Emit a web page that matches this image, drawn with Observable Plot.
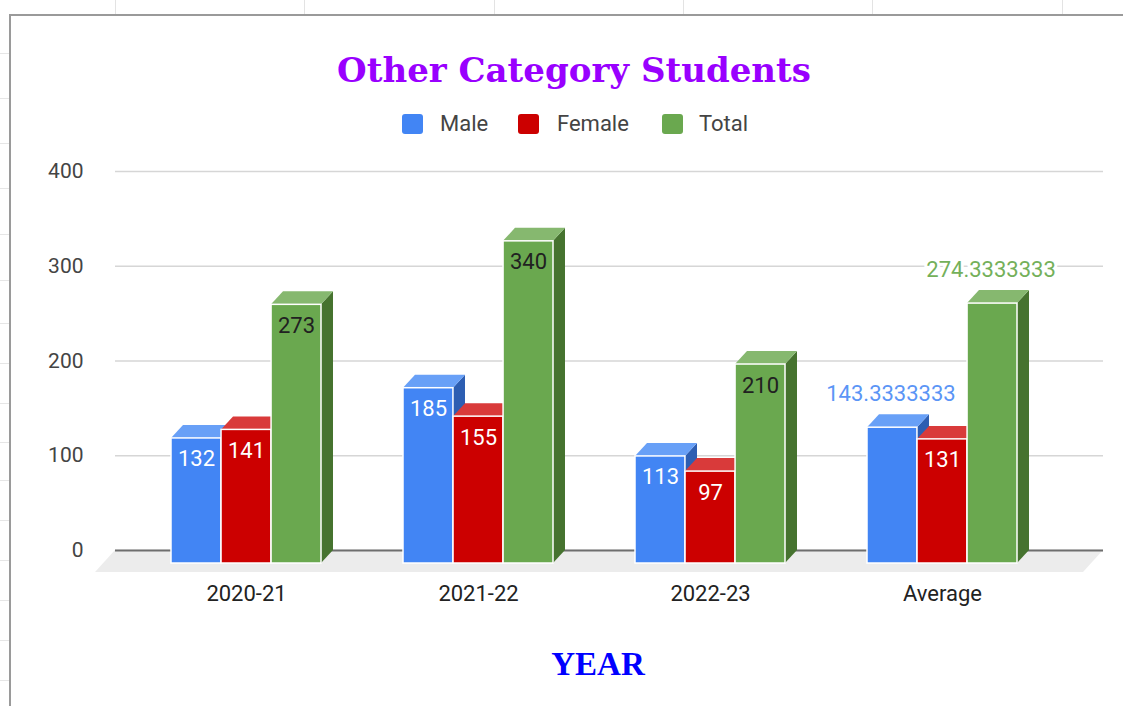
<!DOCTYPE html>
<html>
<head>
<meta charset="utf-8">
<script src="https://cdn.jsdelivr.net/npm/d3@7"></script>
<script src="https://cdn.jsdelivr.net/npm/@observablehq/plot@0.6"></script>
<style>
  html, body { margin: 0; padding: 0; background: #fff; }
  #wrap { position: relative; width: 1123px; height: 706px; overflow: hidden; background: #fff; }
  .abs { position: absolute; white-space: nowrap; }
  #title { left: 0; width: 1148px; text-align: center; top: 53px; font: bold 34px/34px "DejaVu Serif", serif; color: #9900ff; }
  #xlabel { left: 0; width: 1196px; text-align: center; top: 648px; font: bold 33px/33px "Liberation Serif", serif; color: #0000ff; }
  #legend { top: 113px; height: 22px; font: 22px/22px Roboto, sans-serif; color: #444; }
  .sw { position: absolute; top: 1px; width: 21px; height: 20px; border-radius: 3px; }
  .lt { position: absolute; top: 0; }
  #chart { position: absolute; left: 0; top: 140px; }
  #chart g[aria-label="x-axis tick label"] { fill: #222; font-size: 22px; }
  #chart g[aria-label="y-axis tick label"] { fill: #444; }
  .frameTop { position: absolute; left: 10px; top: 14px; width: 1113px; height: 0; border-top: 2px solid #9a9a9a; }
  .frameLeft { position: absolute; left: 9px; top: 14px; width: 0; height: 692px; border-left: 2px solid #9a9a9a; }
  .tickTop { position: absolute; top: 0; width: 1px; height: 14px; background: #e3e3e3; }
  .tickLeft { position: absolute; left: 0; height: 1px; width: 9px; background: #e6e6e6; }
</style>
</head>
<body>
<div id="wrap">
  <div class="frameTop"></div>
  <div class="frameLeft"></div>
  <div id="title" class="abs">Other Category Students</div>
  <div id="legend" class="abs"></div>
  <div id="chart"></div>
  <div id="xlabel" class="abs">YEAR</div>
</div>
<script>
// ---- data ----
const years = ["2020-21", "2021-22", "2022-23", "Average"];
const seriesNames = ["Male", "Female", "Total"];
const male = [132, 185, 113, 143.3333333];
const female = [141, 155, 97, 131];
const total = [273, 340, 210, 274.3333333];
const yTicks = [0, 100, 200, 300, 400];

// ---- styles ----
const frontColors = ["#4285f4", "#cc0000", "#6aa84f"];
const topColors = ["#68a0f7", "#d93a3a", "#86b86f"];
const sideColors = ["#2d5eb2", "#8e0000", "#46732f"];
const insideText = ["#ffffff", "#ffffff", "#212121"];
const outsideText = ["#5b95f6", "#d93a3a", "#74b05a"];
const DX = 12, DY = 13;

const seriesValues = [male, female, total];
const rows = seriesValues.map((vals, i) =>
  years.map((g, j) => ({group: g, series: seriesNames[i], si: i, value: vals[j], label: String(vals[j])})));

// frame decorations (spreadsheet cell borders)
const wrap = document.getElementById("wrap");
[115, 304, 494, 683, 872, 1062].forEach(x => {
  const d = document.createElement("div"); d.className = "tickTop"; d.style.left = x + "px"; wrap.appendChild(d);
});
[53, 98, 143, 188, 234, 280, 323, 363, 403, 442, 480, 520, 560, 600, 640, 680].forEach(y => {
  const d = document.createElement("div"); d.className = "tickLeft"; d.style.top = y + "px"; wrap.appendChild(d);
});

// legend
const legend = document.getElementById("legend");
const legendPos = [[402, 440], [518, 557], [662, 699]];
seriesNames.forEach((n, i) => {
  const s = document.createElement("div"); s.className = "sw";
  s.style.left = legendPos[i][0] + "px"; s.style.background = frontColors[i];
  const t = document.createElement("div"); t.className = "lt";
  t.style.left = legendPos[i][1] + "px"; t.textContent = n;
  legend.appendChild(s); legend.appendChild(t);
});

// x band layout
const xRange = [128.83, 1058.17];
const pad = 0.354;
const step = (xRange[1] - xRange[0]) / years.length;
const bw = step * (1 - pad);
const w = bw / 3;

function faces(i) {
  return (index, scales) => {
    const g = d3.create("svg:g");
    const bwid = scales.x.bandwidth ? scales.x.bandwidth() : bw;
    const ww = bwid / 3;
    const y0 = scales.y(0);
    for (const d of rows[i]) {
      const xl = scales.x(d.group) + i * ww, xr = xl + ww;
      const yb = scales.y(d.value);
      g.append("path")
        .attr("d", `M${xr},${yb + DY}L${xr + DX},${yb}L${xr + DX},${y0}L${xr},${y0 + DY}Z`)
        .attr("fill", sideColors[i]);
      g.append("path")
        .attr("d", `M${xl},${yb + DY}L${xr},${yb + DY}L${xr + DX},${yb}L${xl + DX},${yb}Z`)
        .attr("fill", topColors[i]);
    }
    return g.node();
  };
}

function floor(index, scales, values, dims) {
  const y0 = scales.y(0);
  const l = dims.marginLeft, r = dims.width - dims.marginRight;
  return d3.create("svg:path")
    .attr("d", `M${l},${y0}L${r},${y0}L${r - 20},${y0 + 22}L${l - 20},${y0 + 22}Z`)
    .attr("fill", "#ececec").node();
}

const marks = [
  Plot.gridY(yTicks, {stroke: "#d6d6d6", strokeOpacity: 1, strokeWidth: 1.5}),
  floor,
  Plot.ruleY([0], {stroke: "#6e6e6e", strokeWidth: 2}),
  Plot.axisX({tickSize: 0, tickPadding: 35, label: null}),
  Plot.axisY({ticks: yTicks, tickSize: 0, tickPadding: 32, label: null})
];

seriesNames.forEach((n, i) => {
  marks.push(faces(i));
  marks.push(Plot.barY(rows[i], {
    x: "group", y: "value", fill: frontColors[i], dy: DY,
    insetLeft: i * w, insetRight: (2 - i) * w,
    stroke: "white", strokeWidth: 1.5
  }));
});

seriesNames.forEach((n, i) => {
  const inside = rows[i].filter(d => d.label.length <= 4);
  const outside = rows[i].filter(d => d.label.length > 4);
  marks.push(Plot.text(inside, {
    x: "group", y: "value", text: "label", dx: (i - 1) * w, dy: 34,
    fill: insideText[i], fontSize: 22, lineAnchor: "middle"
  }));
  marks.push(Plot.text(outside, {
    x: "group", y: "value", text: "label", dx: (i - 1) * w - 1.5, dy: -21,
    fill: outsideText[i], fontSize: 22, lineAnchor: "middle",
    stroke: "white", strokeWidth: 6, paintOrder: "stroke"
  }));
});

const chart = Plot.plot({
  width: 1123, height: 470,
  marginTop: 31, marginBottom: 60, marginLeft: 115, marginRight: 20,
  style: {fontFamily: "Roboto, sans-serif", fontSize: "21px", background: "transparent", overflow: "visible"},
  x: {domain: years, range: xRange, paddingInner: pad, paddingOuter: pad / 2},
  y: {domain: [0, 400]},
  marks
});
document.getElementById("chart").appendChild(chart);
</script>
</body>
</html>
